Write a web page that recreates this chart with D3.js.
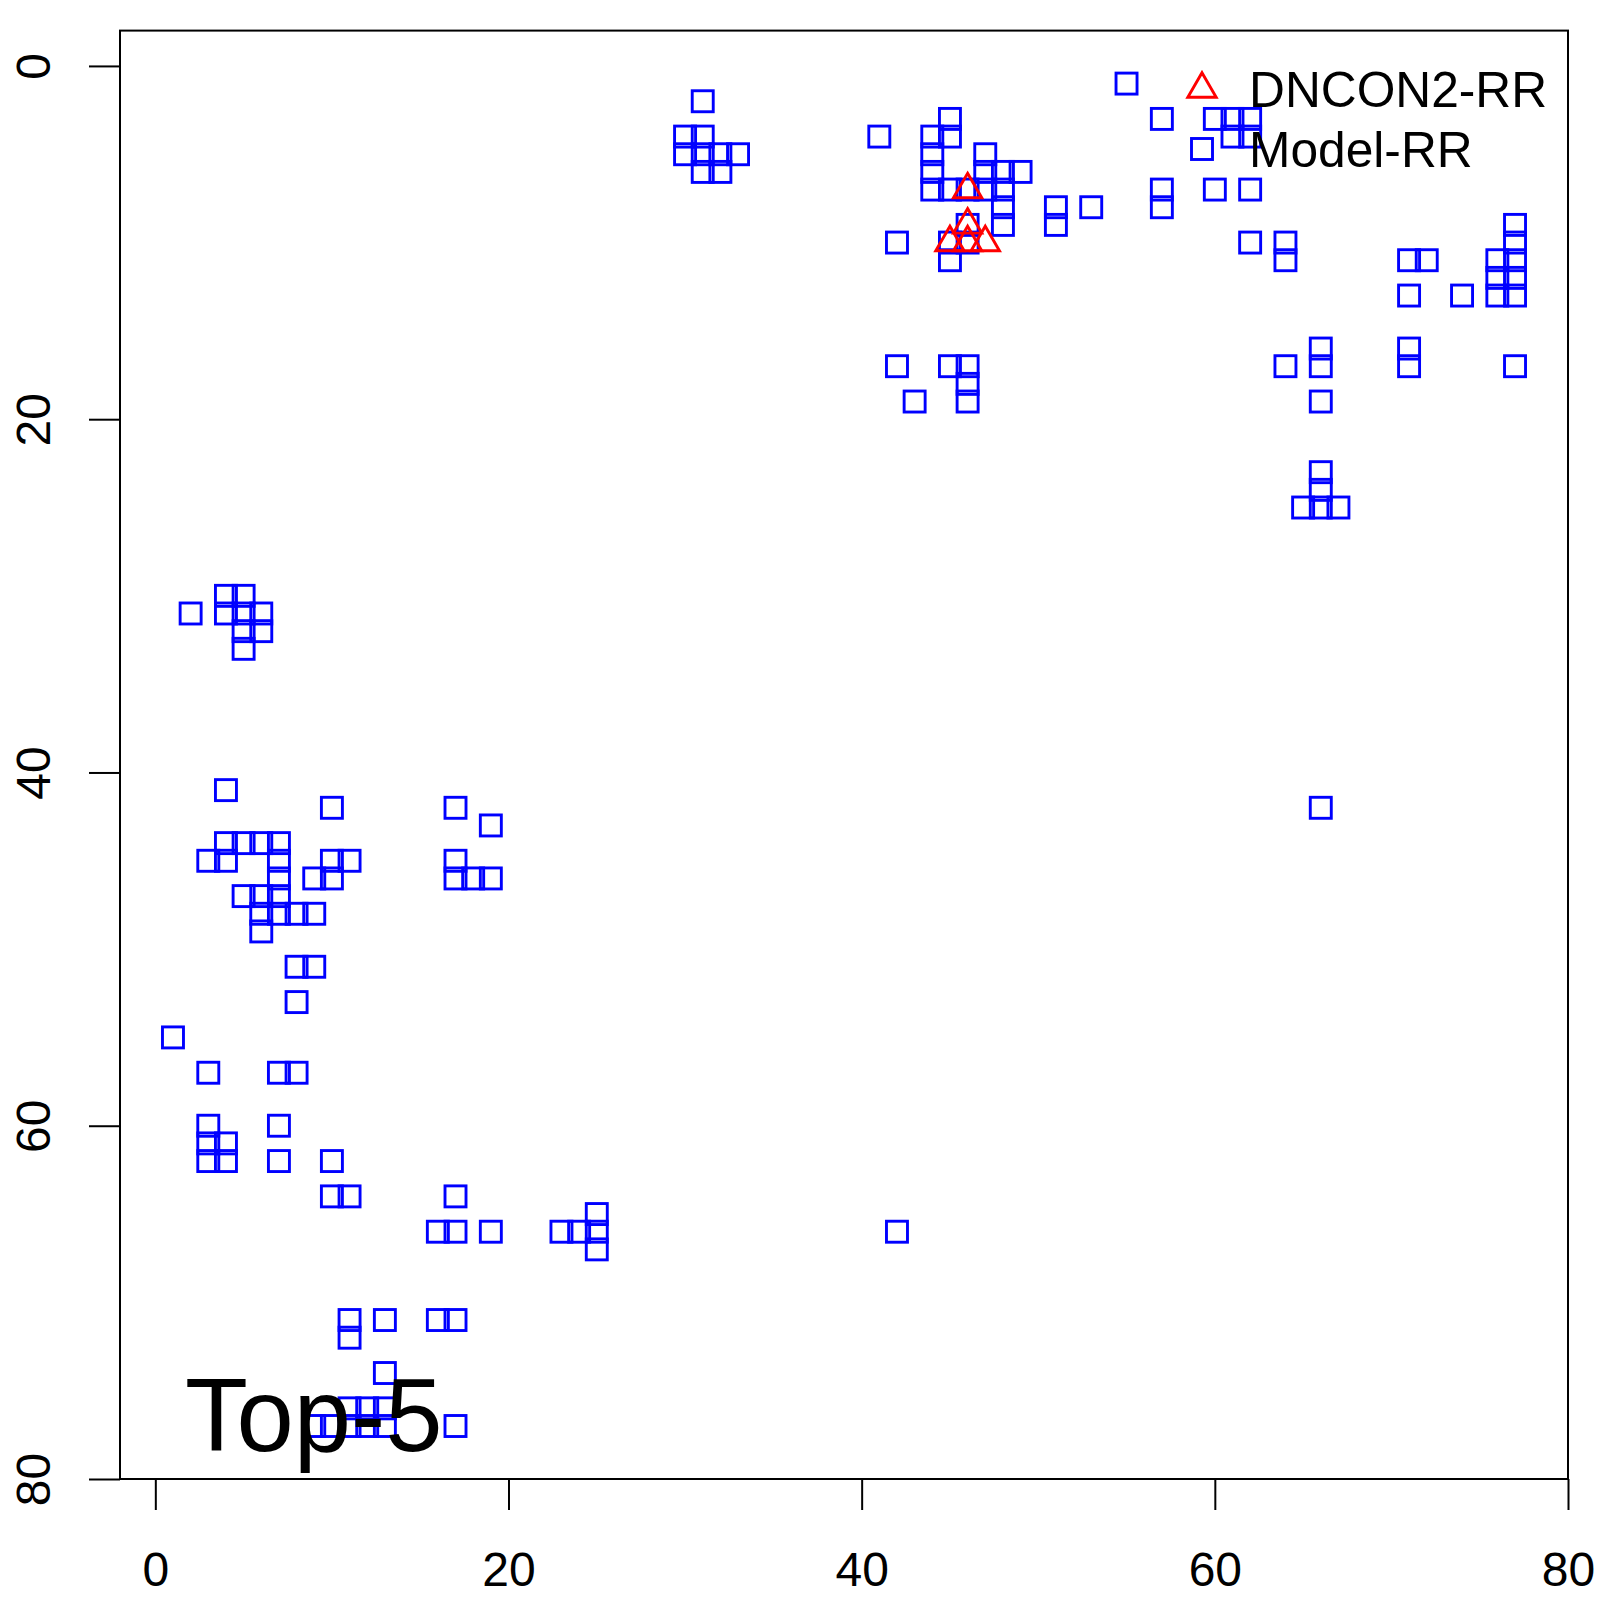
<!DOCTYPE html>
<html>
<head>
<meta charset="utf-8">
<script src="https://cdn.jsdelivr.net/npm/d3@7"></script>
<style>
  body { margin: 0; background: #fff; }
  svg { display: block; font-family: "Liberation Sans", Arial, Helvetica, sans-serif; }
</style>
</head>
<body>
<svg></svg>
<script>
var width = 1600;
var height = 1600;

//Model-RR contacts (squares)
var modelX = [31, 30, 31, 30, 31, 32, 33, 31, 32,
              41, 45, 44, 45, 44, 44, 44, 45, 46, 47, 47, 47, 48, 48, 48, 48, 49, 51, 51, 53, 42, 45, 45, 46, 46, 42, 45, 46, 46, 43, 46,
              55, 57, 60, 61, 62, 61, 62, 57, 60, 62, 57, 62, 64, 64,
              64, 66, 66, 66, 66, 66, 65, 66, 67, 66,
              71, 72, 71, 74, 76, 76, 76, 77, 77, 77, 77, 77, 71, 71, 77,
              2, 4, 4, 5, 5, 5, 5, 6, 6,
              4, 10, 17, 19, 4, 5, 6, 7, 3, 4, 7, 10, 11, 17, 7, 9, 10, 17, 18, 19, 5, 6, 7, 6, 7, 8, 9, 6, 8, 9, 8,
              1, 3, 7, 8, 3, 7, 3, 4, 3, 4, 7, 10, 10, 11, 17, 16, 17, 19, 23, 24, 25, 25, 25, 42,
              11, 11, 13, 16, 17, 13, 11, 12, 13, 9, 10, 11, 12, 13, 17];
var modelY = [2, 4, 4, 5, 5, 5, 5, 6, 6,
              4, 3, 4, 4, 5, 6, 7, 7, 7, 5, 6, 7, 6, 7, 8, 9, 6, 8, 9, 8, 10, 10, 11, 9, 10, 17, 17, 17, 18, 19, 19,
              1, 3, 3, 3, 3, 4, 4, 7, 7, 7, 8, 10, 10, 11,
              17, 16, 17, 19, 23, 24, 25, 25, 25, 42,
              11, 11, 13, 13, 11, 12, 13, 9, 10, 11, 12, 13, 16, 17, 17,
              31, 30, 31, 30, 31, 32, 33, 31, 32,
              41, 42, 42, 43, 44, 44, 44, 44, 45, 45, 45, 45, 45, 45, 46, 46, 46, 46, 46, 46, 47, 47, 47, 48, 48, 48, 48, 49, 51, 51, 53,
              55, 57, 57, 57, 60, 60, 61, 61, 62, 62, 62, 62, 64, 64, 64, 66, 66, 66, 66, 66, 65, 66, 67, 66,
              71, 72, 71, 71, 71, 74, 76, 76, 76, 77, 77, 77, 77, 77, 77];

//DNCON2-RR contacts (triangles)
var dnconX = [46, 46, 45, 46, 47];
var dnconY = [7, 9, 10, 10, 10];

var xTicks = [0, 20, 40, 60, 80];
var yTicks = [0, 20, 40, 60, 80];
var legendLabels = ["DNCON2-RR", "Model-RR"];
var panelLabel = "Top-5";

//plot region (don't call it "top", window.top is taken)
var plotLeft = 120, plotRight = 1568, plotTop = 30.6, plotBottom = 1479;

var x = d3.scaleLinear().domain([-2, 80]).range([plotLeft, plotRight]);
var y = d3.scaleLinear().domain([-2, 80]).range([plotTop, plotBottom]); //reversed: 0 at top

var svg = d3.select('svg')
    .attr('width', width)
    .attr('height', height);

//squares first, triangles on top
var half = 10.5;
var lw = 2.9;
svg.append('g')
    .selectAll('rect')
    .data(modelX.map((d, i) => [d, modelY[i]]))
    .enter()
    .append('rect')
        .attr('x', d => x(d[0]) - half)
        .attr('y', d => y(d[1]) - half)
        .attr('width', half * 2)
        .attr('height', half * 2)
        .attr('fill', 'none')
        .attr('stroke', '#0000ff')
        .attr('stroke-width', lw);

//R pch=2 style triangle around its centroid
function tri(cx, cy) {
    return `M${cx},${cy - 16.3}L${cx + 14.2},${cy + 8.2}L${cx - 14.2},${cy + 8.2}Z`;
}

svg.append('g')
    .selectAll('path')
    .data(dnconX.map((d, i) => [d, dnconY[i]]))
    .enter()
    .append('path')
        .attr('d', d => tri(x(d[0]), y(d[1])))
        .attr('fill', 'none')
        .attr('stroke', '#ff0000')
        .attr('stroke-width', lw);

//box
svg.append('rect')
    .attr('x', plotLeft)
    .attr('y', plotTop)
    .attr('width', plotRight - plotLeft)
    .attr('height', plotBottom - plotTop)
    .attr('fill', 'none')
    .attr('stroke', 'black')
    .attr('stroke-width', 2);

//AXES
var xAxis = svg.append('g')
    .attr('transform', `translate(0, ${plotBottom})`)
    .call(d3.axisBottom(x).tickValues(xTicks).tickSize(31).tickPadding(42).tickSizeOuter(0));
var yAxis = svg.append('g')
    .attr('transform', `translate(${plotLeft}, 0)`)
    .call(d3.axisLeft(y).tickValues(yTicks).tickSize(31).tickSizeOuter(0));

xAxis.select('.domain').attr('d', `M${x(0)},0H${x(80)}`);
yAxis.select('.domain').attr('d', `M0,${y(0)}V${y(80)}`);

[xAxis, yAxis].forEach(a => {
    a.select('.domain').attr('stroke-width', 2);
    a.selectAll('.tick line').attr('stroke-width', 2);
    a.selectAll('.tick text')
        .attr('font-family', '"Liberation Sans", Arial, sans-serif')
        .attr('font-size', 48)
        .attr('fill', 'black');
});

//y labels rotated, reading upward
yAxis.selectAll('.tick text')
    .attr('x', null)
    .attr('dy', null)
    .attr('transform', 'translate(-70, 0) rotate(-90)')
    .attr('text-anchor', 'middle');

//LEGEND (no box)
svg.append('path')
    .attr('d', tri(1202, 89))
    .attr('fill', 'none')
    .attr('stroke', '#ff0000')
    .attr('stroke-width', lw);
svg.append('rect')
    .attr('x', 1202 - half)
    .attr('y', 149 - half)
    .attr('width', half * 2)
    .attr('height', half * 2)
    .attr('fill', 'none')
    .attr('stroke', '#0000ff')
    .attr('stroke-width', lw);
svg.selectAll('.legend')
    .data(legendLabels)
    .enter()
    .append('text')
        .classed('legend', true)
        .attr('x', 1249)
        .attr('y', (d, i) => 107 + i * 60)
        .attr('font-size', 49.7)
        .text(d => d);

svg.append('text')
    .attr('x', 185)
    .attr('y', 1451)
    .attr('font-size', 103)
    .text(panelLabel);
</script>
</body>
</html>
